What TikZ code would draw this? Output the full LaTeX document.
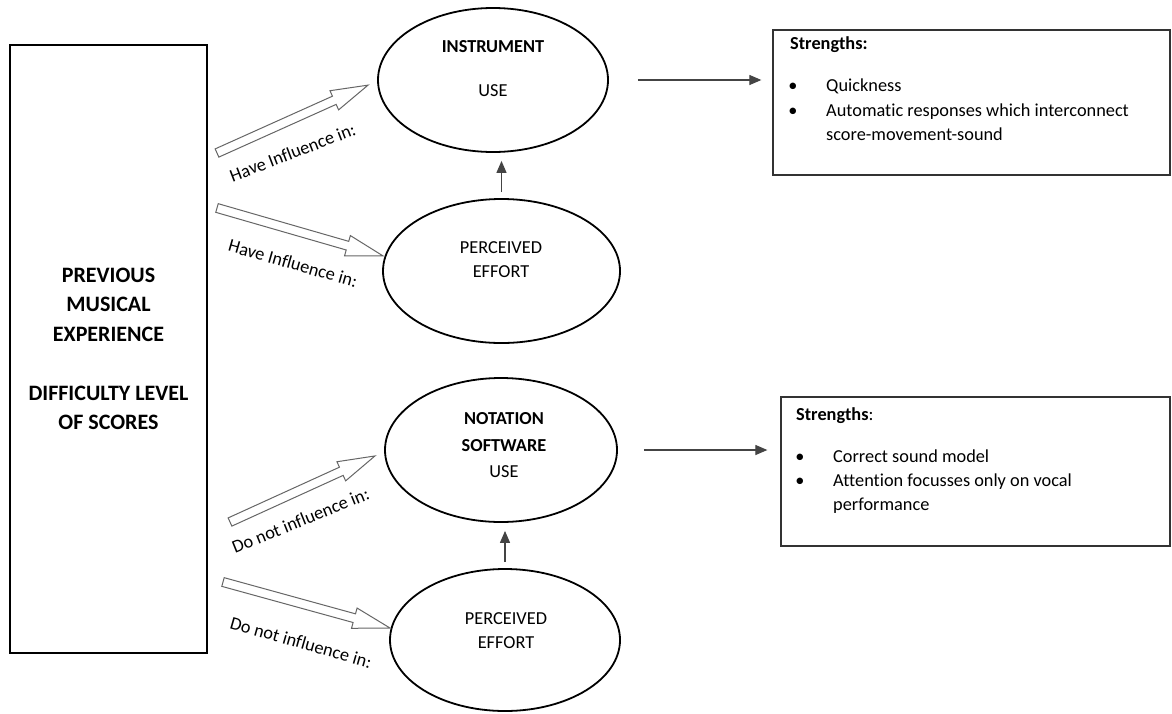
\documentclass[tikz,border=0pt]{standalone}
\usepackage{fontspec}
\setmainfont[Ligatures={TeX,NoCommon}]{Carlito}
\usetikzlibrary{arrows.meta,shapes.geometric}
\definecolor{boxline}{HTML}{333333}
\definecolor{hollowline}{HTML}{666666}
\definecolor{arrline}{HTML}{444444}
\tikzset{
  txt/.style={inner sep=0pt, font=\fontsize{18.3}{22}\selectfont, text height=0.68em, text depth=0.2em},
  boldtxt/.style={txt, font=\fontsize{18.3}{22}\selectfont\bfseries},
  ell/.style={ellipse, draw=black, line width=1.8pt, inner sep=0pt},
  sbox/.style={rectangle, draw=boxline, line width=1.3pt, inner sep=0pt},
  thinarr/.style={draw=arrline, line width=1.2pt, -{Triangle[length=12pt,width=10pt]}},
  hollow/.style={draw=hollowline, line width=1pt, fill=white, line join=miter},
  harr/.pic={\draw[hollow] (0,-4.5) -- ({#1-37},-4.5) -- ({#1-37},-10.5) -- (#1,0) -- ({#1-37},10.5) -- ({#1-37},4.5) -- (0,4.5) -- cycle;},
  lbl/.style={txt}
}
\begin{document}
\begin{tikzpicture}[x=1pt,y=-1pt]
\useasboundingbox (0,0) rectangle (1172,713);
\fill[white] (0,0) rectangle (1172,713);

% left box
\node[rectangle, draw=black, line width=1.8pt, minimum width=197pt, minimum height=608pt, inner sep=0pt,
      align=center, font=\fontsize{22}{29.5}\selectfont\bfseries] (B0) at (108.5,349)
  {PREVIOUS\\MUSICAL\\EXPERIENCE\\[29.5pt]DIFFICULTY LEVEL\\OF SCORES};

% ellipses
\node[ell, minimum width=230pt, minimum height=144pt] (E1) at (493,80) {};
\node[ell, minimum width=237pt, minimum height=144pt] (E2) at (501.5,271) {};
\node[ell, minimum width=232pt, minimum height=144pt] (E3) at (501,450) {};
\node[ell, minimum width=230pt, minimum height=142pt] (E4) at (505,640) {};

\node[boldtxt] (E1a) at (493,50) {INSTRUMENT};
\node[txt] (E1b) at (493,94) {USE};
\node[txt] (E2a) at (501,251) {PERCEIVED};
\node[txt] (E2b) at (501,275) {EFFORT};
\node[boldtxt] (E3a) at (504,422) {NOTATION};
\node[boldtxt] (E3b) at (504,449) {SOFTWARE};
\node[txt] (E3c) at (504,475) {USE};
\node[txt] (E4a) at (506,622) {PERCEIVED};
\node[txt] (E4b) at (506,646) {EFFORT};

% strength boxes
\node[sbox, minimum width=397pt, minimum height=145pt] (B1) at (971.5,102.5) {};
\node[sbox, minimum width=389pt, minimum height=149pt] (B2) at (975.5,471.5) {};

\node[boldtxt, anchor=west] (B1t) at (790,47) {Strengths:};
\node[txt] (B1d1) at (793,89) {•};
\node[txt] (B1d2) at (793,114) {•};
\node[txt, anchor=west] (B1i1) at (826,89) {Quickness};
\node[txt, anchor=west] (B1i2) at (826,114) {Automatic responses which interconnect};
\node[txt, anchor=west] (B1i3) at (826,138) {score-movement-sound};

\node[txt, anchor=west] (B2t) at (796,418) {\textbf{Strengths}:};
\node[txt] (B2d1) at (800,460) {•};
\node[txt] (B2d2) at (800,484) {•};
\node[txt, anchor=west] (B2i1) at (833,460) {Correct sound model};
\node[txt, anchor=west] (B2i2) at (833,484) {Attention focusses only on vocal};
\node[txt, anchor=west] (B2i3) at (833,508) {performance};

% thin arrows
\draw[thinarr, shorten <=29pt, shorten >=11pt] (E1.east) -- (E1.east -| B1.west);
\draw[thinarr, shorten <=26pt, shorten >=13pt] (E3.east) -- (E3.east -| B2.west);
\draw[thinarr, shorten <=6pt, shorten >=8pt] (E2.north) -- (E2.north |- E1.south);
\draw[thinarr, shorten <=6pt, shorten >=8pt] (E4.north) -- (E4.north |- E3.south);

% hollow arrows
\coordinate (t1) at (217,153);
\coordinate (t2) at (217,208);
\coordinate (t3) at (230,522);
\coordinate (t4) at (223,582);
\pic[rotate=24.2] at (t1) {harr=165.6};
\pic[rotate=-16.1] at (t2) {harr=172.8};
\pic[rotate=24.5] at (t3) {harr=159.3};
\pic[rotate=-15.4] at (t4) {harr=173.2};

% labels
\node[lbl, rotate=21] (L1) at (294,156) {Have Influence in:};
\node[lbl, rotate=-16] (L2) at (292,267) {Have Influence in:};
\node[lbl, rotate=22] (L3) at (302,524) {Do not influence in:};
\node[lbl, rotate=-16] (L4) at (300,646) {Do not influence in:};
\end{tikzpicture}
\end{document}
